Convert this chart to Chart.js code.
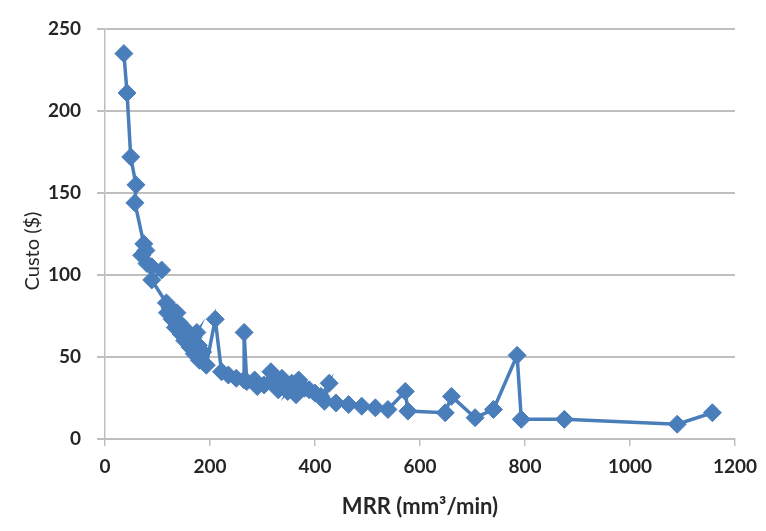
<!DOCTYPE html>
<html>
<head>
<meta charset="utf-8">
<script src="https://cdn.jsdelivr.net/npm/chart.js@4.4.1/dist/chart.umd.min.js"></script>
<style>
  html, body { margin: 0; padding: 0; background: #fff; }
  #wrap { width: 766px; height: 531px; }
</style>
</head>
<body>
<div id="wrap"><canvas id="custoChart" width="766" height="531"></canvas></div>
<script>
// MRR (mm3/min) and cost for each run, in the order they are plotted
const mrr = [36, 42, 49, 59, 57, 74, 78, 70, 80, 89, 108, 89, 117, 124, 137, 119, 128, 141, 134, 150,
  145, 158, 152, 168, 175, 162, 178, 170, 186, 180, 193, 210, 222, 235, 250, 265, 265, 270, 285, 290,
  303, 316, 320, 337, 330, 356, 348, 369, 364, 380, 389, 400, 411, 427, 418, 440, 464, 489, 515, 539,
  572, 577, 648, 660, 705, 740, 785, 793, 875, 1090, 1157];
const custo = [235, 211, 172, 155, 144, 119, 115, 112, 107, 105, 103, 97, 83, 80, 77, 77, 73, 71, 68, 68,
  64, 64, 60, 62, 65, 56, 57, 52, 53, 48, 45, 73, 41, 39, 37, 36, 65, 35, 36, 32,
  33, 41, 35, 37, 30, 34, 29, 36, 27, 31, 30, 28, 26, 34, 23, 22, 21, 20, 19, 18,
  29, 17, 16, 26, 13, 18, 51, 12, 12, 9, 16];
const xTicks = [0, 200, 400, 600, 800, 1000, 1200];
const yTicks = [0, 50, 100, 150, 200, 250];

const blue = '#4A7EBB';
const gridGrey = '#BFBFBF';
const textColor = '#262626';
const fontFamily = 'Lato, "Open Sans", sans-serif';
const tickFont = { family: fontFamily, size: 19, weight: 'bold' };

const points = mrr.map((x, i) => ({ x: x, y: custo[i] }));

// y-axis title drawn by hand so it can sit a little below the middle
const yTitle = {
  id: 'yTitle',
  afterDraw(chart) {
    const ctx = chart.ctx;
    ctx.save();
    ctx.translate(33, 251);
    ctx.rotate(-Math.PI / 2);
    ctx.font = '20px ' + fontFamily;
    ctx.fillStyle = textColor;
    ctx.textAlign = 'center';
    ctx.textBaseline = 'middle';
    ctx.fillText('Custo ($)', 0, 0);
    ctx.restore();
  }
};

new Chart(document.getElementById('custoChart'), {
  type: 'line',
  data: {
    datasets: [{
      data: points,
      borderColor: blue,
      backgroundColor: blue,
      borderWidth: 3.5,
      pointStyle: 'rectRot',
      pointRadius: 9,
      pointBorderWidth: 1,
      pointBackgroundColor: blue,
      pointBorderColor: blue,
      tension: 0,
      fill: false
    }]
  },
  options: {
    responsive: false,
    animation: false,
    layout: { padding: { top: 29, right: 28, left: 0, bottom: 0 } },
    plugins: { legend: { display: false }, tooltip: { enabled: false } },
    scales: {
      x: {
        type: 'linear',
        min: 0,
        max: 1200,
        afterBuildTicks(scale) { scale.ticks = xTicks.map(v => ({ value: v })); },
        afterFit(scale) { scale.height = 92; },
        grid: { drawOnChartArea: false, drawTicks: true, tickLength: 7, color: gridGrey, lineWidth: 1.5 },
        border: { color: gridGrey, width: 1.5 },
        ticks: { color: textColor, font: tickFont, padding: 9, maxRotation: 0, callback: v => String(v) },
        title: {
          display: true,
          text: 'MRR (mm³/min)',
          color: textColor,
          font: { family: fontFamily, size: 22, weight: 'bold' },
          padding: { top: 6, bottom: 11 }
        }
      },
      y: {
        min: 0,
        max: 250,
        afterBuildTicks(scale) { scale.ticks = yTicks.map(v => ({ value: v })); },
        afterFit(scale) { scale.width = 105; },
        grid: { color: gridGrey, lineWidth: 2, tickLength: 8 },
        border: { color: gridGrey, width: 1.5 },
        ticks: { color: textColor, font: tickFont, padding: 16, callback: v => String(v) }
      }
    }
  },
  plugins: [yTitle]
});
</script>
</body>
</html>
